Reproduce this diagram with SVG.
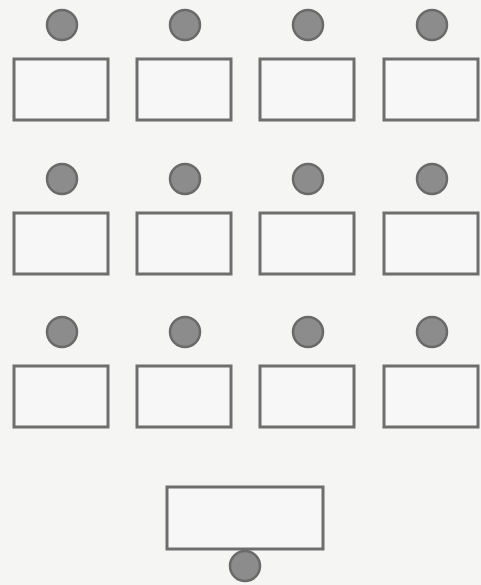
<svg xmlns="http://www.w3.org/2000/svg" width="481" height="585" viewBox="0 0 481 585">
<style>
.desk{fill:#f7f7f7;stroke:#6e6e6e;stroke-width:3}
.seat{fill:#8c8c8c;stroke:#6a6a6a;stroke-width:2.5}
</style>
<defs>
<g id="station">
<circle class="seat" cx="48" cy="-34" r="15"/>
<rect class="desk" x="0" y="0" width="94" height="61"/>
</g>
</defs>
<rect width="481" height="585" fill="#f5f5f3"/>
<g id="row1">
<use id="s1" href="#station" x="14" y="59"/>
<use id="s2" href="#station" x="137" y="59"/>
<use id="s3" href="#station" x="260" y="59"/>
<use id="s4" href="#station" x="384" y="59"/>
</g>
<g id="row2">
<use id="s5" href="#station" x="14" y="213"/>
<use id="s6" href="#station" x="137" y="213"/>
<use id="s7" href="#station" x="260" y="213"/>
<use id="s8" href="#station" x="384" y="213"/>
</g>
<g id="row3">
<use id="s9" href="#station" x="14" y="366"/>
<use id="s10" href="#station" x="137" y="366"/>
<use id="s11" href="#station" x="260" y="366"/>
<use id="s12" href="#station" x="384" y="366"/>
</g>
<g id="teacher">
<rect class="desk" x="167" y="487" width="156" height="62"/>
<circle class="seat" cx="245" cy="566" r="15"/>
</g>
</svg>
